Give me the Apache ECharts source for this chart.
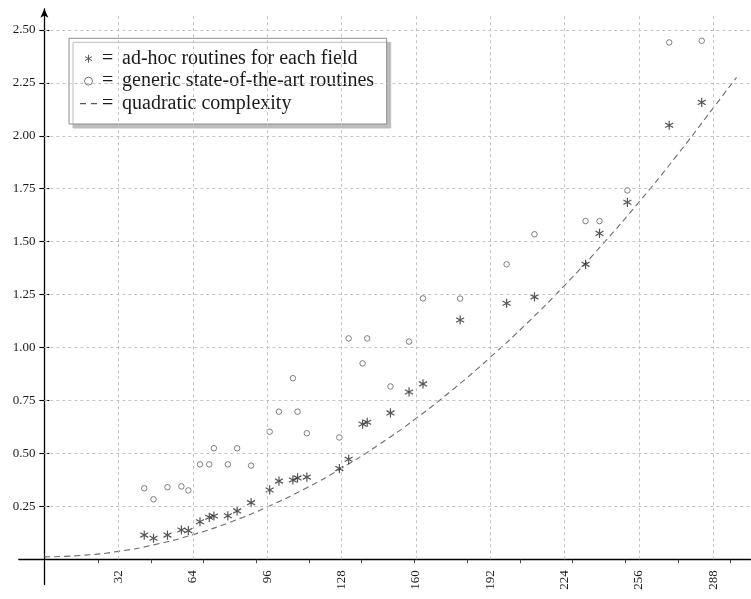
<!DOCTYPE html>
<html><head><meta charset="utf-8">
<script src="https://cdn.jsdelivr.net/npm/echarts@6/dist/echarts.min.js"></script>
<style>html,body{margin:0;padding:0;background:#fff}#c{width:751px;height:599px}</style>
</head><body><div id="c"></div>
<script>
// ---- data ----
const fieldBits = [43,47,53,59,62,67,71,73,79,83,89,97,101,107,109,113,127,131,137,139,149,157,163,179,199,211,233,239,251,269,283];
const adhocTimes = [0.114,0.099,0.114,0.138,0.135,0.177,0.198,0.204,0.205,0.228,0.267,0.327,0.369,0.374,0.384,0.388,0.428,0.472,0.638,0.647,0.691,0.790,0.828,1.130,1.209,1.239,1.393,1.539,1.686,2.050,2.158];
const genericTimes = [0.335,0.283,0.340,0.344,0.325,0.448,0.448,0.524,0.448,0.524,0.442,0.602,0.697,0.855,0.697,0.595,0.575,1.043,0.925,1.043,0.816,1.028,1.232,1.231,1.393,1.535,1.597,1.597,1.742,2.441,2.449];
const quadX = [0,16,32,48,64,80,96,112,128,144,160,176,192,208,224,240,256,272,288,298];
const quadY = [0.011,0.018,0.037,0.070,0.116,0.175,0.247,0.332,0.430,0.541,0.665,0.803,0.954,1.117,1.294,1.484,1.687,1.903,2.132,2.276];
const xTickLabels = [32,64,96,128,160,192,224,256,288];
const yTickLabels = [0.25,0.5,0.75,1.0,1.25,1.5,1.75,2.0,2.25,2.5];
const xMinorTicks = [23.1,45.9,68.5,91.1,113.9,136.5,159.3,181.9,204.7,227.1,249.9,272.7,295.1];
const names = ['ad-hoc routines for each field','generic state-of-the-art routines','quadratic complexity'];

const X_MIN = -11, X_MAX = 304, Y_MIN = -0.12, Y_MAX = 2.6, VGRID_TOP = 2.566;
const SERIF = '"Liberation Serif", "DejaVu Serif", serif';
const ASTERISK = 'path://M-1.3,-10 L1.3,-10 L1.3,10 L-1.3,10 Z M8.01,-6.13 L9.31,-3.87 L-8.01,6.13 L-9.31,3.87 Z M-9.31,-3.87 L-8.01,-6.13 L9.31,3.87 L8.01,6.13 Z';
const DASHES = 'path://M0,0 L6,0 L6,1.1 L0,1.1 Z M11,0 L17,0 L17,1.1 L11,1.1 Z';

const gridLines = [];
xTickLabels.forEach(v => gridLines.push([{coord: [v, 0]}, {coord: [v, VGRID_TOP]}]));
yTickLabels.forEach(v => gridLines.push([{coord: [0, v]}, {coord: [X_MAX, v]}]));

const chart = echarts.init(document.getElementById('c'), null, {renderer: 'canvas'});
chart.setOption({
  animation: false,
  backgroundColor: '#fff',
  grid: {left: 18.8, right: 0.5, top: 8.8, bottom: 14.4, containLabel: false, outerBoundsMode: 'none'},
  xAxis: [{
    type: 'value', min: X_MIN, max: X_MAX, position: 'bottom',
    axisLine: {show: true, onZero: true, onZeroAxisIndex: 0, lineStyle: {color: '#000', width: 1.3}},
    axisTick: {show: true, length: 4, customValues: xMinorTicks, lineStyle: {color: '#222', width: 0.8}},
    axisLabel: {show: true, customValues: xTickLabels, rotate: 90, margin: -14.4, color: '#1a1a1a', fontFamily: SERIF, fontSize: 13},
    splitLine: {show: false}
  }],
  yAxis: [{
    type: 'value', min: Y_MIN, max: Y_MAX, position: 'left',
    axisLine: {show: true, onZero: true, onZeroAxisIndex: 0, symbol: ['none', 'arrow'], symbolSize: [6, 9], lineStyle: {color: '#000', width: 1.3}},
    axisTick: {show: true, length: 5, customValues: yTickLabels, lineStyle: {color: '#000', width: 1.1}},
    axisLabel: {show: true, customValues: yTickLabels, margin: -16.6, color: '#1a1a1a', fontFamily: SERIF, fontSize: 13,
      formatter: v => Number(v).toFixed(2)},
    splitLine: {show: false}
  }, {
    type: 'value', min: Y_MIN, max: Y_MAX, position: 'left',
    axisLine: {show: false, onZero: true, onZeroAxisIndex: 0},
    axisTick: {show: true, inside: true, length: 5, customValues: yTickLabels, lineStyle: {color: '#000', width: 1.1}},
    axisLabel: {show: false},
    splitLine: {show: false}
  }],
  legend: {
    show: true, orient: 'vertical', left: 69, top: 38.3,
    padding: [9.1, 11.7, 9.1, 11], itemGap: 0, itemWidth: 17, itemHeight: 8, itemTextGap: 5,
    selectedMode: false,
    backgroundColor: '#fff', borderColor: '#8c8c8c', borderWidth: 1, borderRadius: 0,
    shadowColor: '#bdbdbd', shadowBlur: 0, shadowOffsetX: 4, shadowOffsetY: 4,
    data: [
      {name: names[0], icon: ASTERISK, itemStyle: {color: '#333'}},
      {name: names[1], icon: 'circle', itemStyle: {color: 'rgba(255,255,255,0)', borderColor: '#444', borderWidth: 0.9}},
      {name: names[2], icon: DASHES, itemStyle: {color: '#555', borderWidth: 0}}
    ],
    formatter: n => '{e|=}{t|' + n + '}',
    textStyle: {
      fontFamily: SERIF, fontSize: 20, color: '#1a1a1a', lineHeight: 22.5,
      rich: {
        e: {width: 20, fontFamily: SERIF, fontSize: 20, color: '#1a1a1a', lineHeight: 22.5},
        t: {width: 253, fontFamily: SERIF, fontSize: 20, color: '#1a1a1a', lineHeight: 22.5}
      }
    }
  },
  series: [{
    name: 'grid', type: 'line', data: [], z: 1, silent: true, symbol: 'none',
    markLine: {silent: true, symbol: ['none', 'none'], label: {show: false},
      lineStyle: {color: '#c4c4c4', type: [3, 3], width: 1}, emphasis: {disabled: true}, data: gridLines}
  }, {
    name: names[2], type: 'line', z: 2, smooth: true, symbol: 'none', silent: true,
    data: quadX.map((x, i) => [x, quadY[i]]),
    lineStyle: {color: '#6e6e6e', width: 1.1, type: [6, 4]}, itemStyle: {color: '#6e6e6e'}
  }, {
    name: names[0], type: 'scatter', z: 3, symbol: ASTERISK, symbolSize: 9.2, symbolKeepAspect: true,
    data: fieldBits.map((x, i) => [x, adhocTimes[i]]),
    itemStyle: {color: '#2b2b2b'}
  }, {
    name: names[1], type: 'scatter', z: 3, symbol: 'circle', symbolSize: 5.5,
    data: fieldBits.map((x, i) => [x, genericTimes[i]]),
    itemStyle: {color: 'rgba(255,255,255,0)', borderColor: '#505050', borderWidth: 0.9}
  }]
});
</script></body></html>
